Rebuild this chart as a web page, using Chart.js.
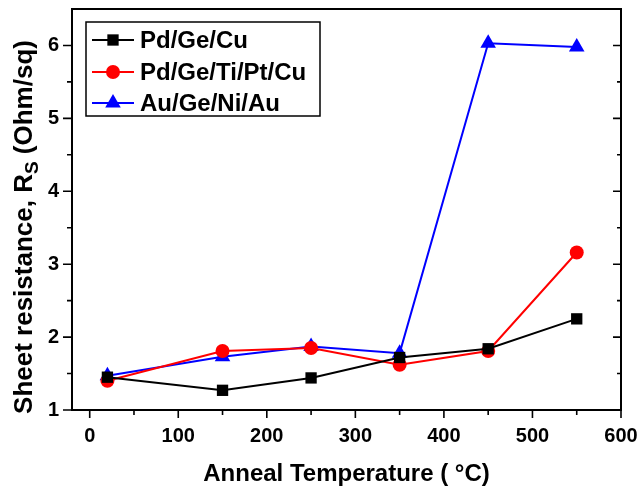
<!DOCTYPE html>
<html>
<head>
<meta charset="utf-8">
<script src="https://cdn.jsdelivr.net/npm/chart.js@4/dist/chart.umd.min.js"></script>
<style>
  html, body { margin: 0; padding: 0; background: #fff; }
  #wrap { width: 638px; height: 490px; position: relative; }
</style>
</head>
<body>
<div id="wrap"><canvas id="rsChart"></canvas></div>
<script>
// anneal temperatures (°C)
const temps = [20, 150, 250, 350, 450, 550];

// sheet resistance (Ohm/sq)
const pdGeCu = [1.45, 1.27, 1.44, 1.72, 1.84, 2.25];
const pdGeTiPtCu = [1.40, 1.81, 1.85, 1.62, 1.81, 3.16];
const auGeNiAu = [1.47, 1.73, 1.87, 1.78, 6.03, 5.98];

const seriesNames = ['Pd/Ge/Cu', 'Pd/Ge/Ti/Pt/Cu', 'Au/Ge/Ni/Au'];

const xTicks = [0, 100, 200, 300, 400, 500, 600];
const xMinor = [50, 150, 250, 350, 450, 550];
const yTicks = [1, 2, 3, 4, 5, 6];
const yMinor = [1.5, 2.5, 3.5, 4.5, 5.5];

const FONT = '"Liberation Sans", Arial, sans-serif';

function toPoints(ys) {
    return temps.map((t, i) => ({ x: t, y: ys[i] }));
}

// frame, minor/major ticks, y title with subscript, and the boxed legend
const framePlugin = {
    id: 'frame',
    afterDraw(chart) {
        const ctx = chart.ctx;
        const a = chart.chartArea;
        const xs = chart.scales.x;
        const ys = chart.scales.y;
        ctx.save();
        ctx.strokeStyle = '#000';
        ctx.lineWidth = 2;
        ctx.strokeRect(a.left, a.top, a.right - a.left, a.bottom - a.top);

        ctx.lineWidth = 1.6;
        ctx.beginPath();
        xTicks.forEach(v => {
            const px = xs.getPixelForValue(v);
            ctx.moveTo(px, a.bottom); ctx.lineTo(px, a.bottom + 8);
        });
        xMinor.forEach(v => {
            const px = xs.getPixelForValue(v);
            ctx.moveTo(px, a.bottom); ctx.lineTo(px, a.bottom + 5);
        });
        yTicks.forEach(v => {
            const py = ys.getPixelForValue(v);
            ctx.moveTo(a.left, py); ctx.lineTo(a.left - 9, py);
            ctx.moveTo(a.right, py); ctx.lineTo(a.right - 8, py);
        });
        yMinor.forEach(v => {
            const py = ys.getPixelForValue(v);
            ctx.moveTo(a.left, py); ctx.lineTo(a.left - 5, py);
            ctx.moveTo(a.right, py); ctx.lineTo(a.right - 4, py);
        });
        ctx.stroke();

        // y axis title: Sheet resistance, R_S (Ohm/sq)
        const big = 'bold 26px ' + FONT;
        const small = 'bold 19px ' + FONT;
        const p1 = 'Sheet resistance, R';
        const p2 = 'S';
        const p3 = ' (Ohm/sq)';
        ctx.font = big;
        const w1 = ctx.measureText(p1).width;
        const w3 = ctx.measureText(p3).width;
        ctx.font = small;
        const w2 = ctx.measureText(p2).width;
        const total = w1 + w2 + w3;
        ctx.translate(32, 227);
        ctx.rotate(-Math.PI / 2);
        ctx.fillStyle = '#000';
        ctx.textBaseline = 'alphabetic';
        ctx.textAlign = 'left';
        let x0 = -total / 2;
        ctx.font = big;
        ctx.fillText(p1, x0, 0);
        ctx.font = small;
        ctx.fillText(p2, x0 + w1, 6);
        ctx.font = big;
        ctx.fillText(p3, x0 + w1 + w2, 0);
        ctx.restore();

        // legend box
        ctx.save();
        const lx = 86, ly = 22, lw = 234, lh = 94;
        ctx.fillStyle = '#fff';
        ctx.fillRect(lx, ly, lw, lh);
        ctx.strokeStyle = '#000';
        ctx.lineWidth = 1.5;
        ctx.strokeRect(lx, ly, lw, lh);
        const rows = [40, 72, 103];
        chart.data.datasets.forEach((ds, i) => {
            const y = rows[i];
            ctx.strokeStyle = ds.borderColor;
            ctx.lineWidth = 2;
            ctx.beginPath();
            ctx.moveTo(92, y); ctx.lineTo(134, y);
            ctx.stroke();
            ctx.fillStyle = ds.backgroundColor;
            Chart.helpers.drawPoint(ctx, { pointStyle: ds.pointStyle, radius: ds.pointRadius, borderWidth: 0 }, 113, y);
            ctx.fillStyle = '#000';
            ctx.font = 'bold 24px ' + FONT;
            ctx.textBaseline = 'middle';
            ctx.textAlign = 'left';
            ctx.fillText(ds.label, 140, y + 1);
        });
        ctx.restore();
    }
};

const ctxRs = document.getElementById('rsChart').getContext('2d');
new Chart(ctxRs, {
    type: 'line',
    data: {
        datasets: [
            {
                label: seriesNames[0],
                data: toPoints(pdGeCu),
                borderColor: '#000000',
                backgroundColor: '#000000',
                pointStyle: 'rect',
                pointRadius: 8,
                borderWidth: 2,
                pointBorderWidth: 0
            },
            {
                label: seriesNames[1],
                data: toPoints(pdGeTiPtCu),
                borderColor: '#ff0000',
                backgroundColor: '#ff0000',
                pointStyle: 'circle',
                pointRadius: 7,
                borderWidth: 2,
                pointBorderWidth: 0
            },
            {
                label: seriesNames[2],
                data: toPoints(auGeNiAu),
                borderColor: '#0000ff',
                backgroundColor: '#0000ff',
                pointStyle: 'triangle',
                pointRadius: 9,
                borderWidth: 2,
                pointBorderWidth: 0
            }
        ]
    },
    options: {
        responsive: true,
        maintainAspectRatio: false,
        animation: false,
        layout: { padding: { top: 8, right: 17, left: 0, bottom: 0 } },
        plugins: {
            legend: { display: false },
            tooltip: { enabled: false }
        },
        scales: {
            x: {
                type: 'linear',
                min: -20,
                max: 600,
                afterBuildTicks: s => { s.ticks = xTicks.map(v => ({ value: v })); },
                afterFit: s => { s.height = 80; s.paddingLeft = 0; s.paddingRight = 0; },
                grid: { display: false },
                border: { display: false },
                ticks: {
                    color: '#000',
                    padding: 6,
                    maxRotation: 0,
                    font: { family: FONT, weight: 'bold', size: 20 }
                },
                title: {
                    display: true,
                    text: 'Anneal Temperature ( °C)',
                    color: '#000',
                    font: { family: FONT, weight: 'bold', size: 24 },
                    padding: { top: 0, bottom: 1 }
                }
            },
            y: {
                type: 'linear',
                min: 1,
                max: 6.5,
                afterBuildTicks: s => { s.ticks = yTicks.map(v => ({ value: v })); },
                afterFit: s => { s.width = 72; s.paddingTop = 0; s.paddingBottom = 0; },
                grid: { display: false },
                border: { display: false },
                ticks: {
                    color: '#000',
                    padding: 5,
                    font: { family: FONT, weight: 'bold', size: 20 }
                }
            }
        }
    },
    plugins: [framePlugin]
});
</script>
</body>
</html>
